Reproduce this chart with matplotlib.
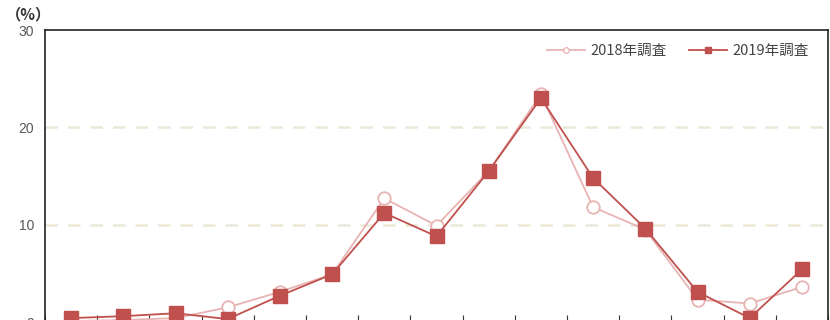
import numpy as np
import matplotlib.pyplot as plt
from matplotlib.lines import Line2D

plt.rcParams['font.family'] = ['Noto Sans CJK JP', 'DejaVu Sans']

# Data (15 categories, x labels are cut off in the reference)
categories = [str(i) for i in range(1, 16)]
survey_2018 = [0.1, 0.2, 0.4, 1.5, 3.1, 4.9, 12.7, 9.9, 15.5, 23.4, 11.8, 9.5, 2.3, 1.9, 3.6]
survey_2019 = [0.4, 0.6, 0.9, 0.3, 2.7, 4.9, 11.2, 8.8, 15.5, 23.0, 14.8, 9.6, 3.1, 0.4, 5.4]
grid_values = [10, 20]

c2018 = '#e8b4b3'
c2019 = '#c0504d'

fig = plt.figure(figsize=(8.3, 3.2), dpi=100)
ax = fig.add_axes([45 / 830, -2 / 320, 783 / 830, 292 / 320])

x = np.arange(len(categories))
ax.plot(x, survey_2018, color=c2018, lw=1.3, marker='o', ms=9,
        mfc='white', mec=c2018, mew=1.3, zorder=3)
ax.plot(x, survey_2019, color=c2019, lw=1.3, marker='s', ms=10,
        mfc=c2019, mec=c2019, zorder=4)

ax.set_xlim(-0.5, len(categories) - 0.5)
ax.set_ylim(0, 30)
ax.set_yticks([0, 10, 20, 30])
ax.set_xticks(np.arange(len(categories) + 1) - 0.5)
ax.set_xticklabels([])
ax.tick_params(axis='x', direction='in', length=5, color='#333333')
ax.tick_params(axis='y', length=0, labelsize=10, labelcolor='#595959', pad=8)
for lbl in ax.get_yticklabels():
    lbl.set_family('Liberation Sans')

# dashed horizontal gridlines (not at the frame)
for g in grid_values:
    ax.axhline(g, linestyle=(0, (5, 4)), color='#ece8d8', lw=1.8, zorder=0)
for s in ax.spines.values():
    s.set_color('#222222')
    s.set_linewidth(1.2)

fig.text(6 / 830, 1 - 14 / 320, '（%）', fontsize=11, color='#333333',
         va='center', ha='left', fontweight='bold')

handles = [
    Line2D([], [], color=c2018, lw=1.3, marker='o', ms=4, mfc='white', mec=c2018),
    Line2D([], [], color=c2019, lw=1.3, marker='s', ms=5, mfc=c2019, mec=c2019),
]
ax.legend(handles, ['2018年調査', '2019年調査'], loc='upper right', ncol=2,
          frameon=False, fontsize=10.5, labelcolor='#444444',
          bbox_to_anchor=(0.993, 0.998), handlelength=2.6, columnspacing=1.5,
          handletextpad=0.4)

fig.savefig('out.png', dpi=100)
